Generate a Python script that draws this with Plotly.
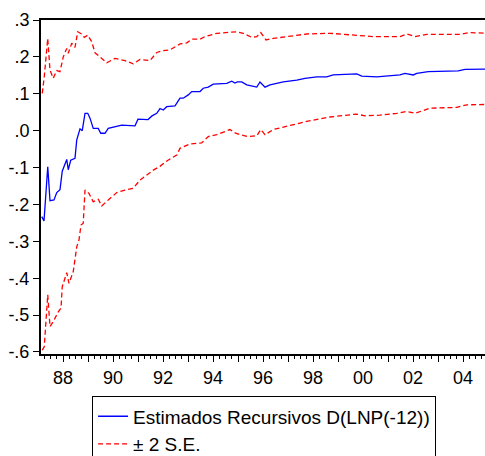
import plotly.graph_objects as go

# Recursive estimate (dates as decimal years)
est_t = [1987.15, 1987.24, 1987.39, 1987.48, 1987.64, 1987.75, 1987.88, 1987.97,
         1988.15, 1988.21, 1988.31, 1988.48, 1988.55, 1988.59, 1988.68, 1988.77,
         1988.88, 1988.99, 1989.08, 1989.21, 1989.41, 1989.51, 1989.68, 1989.81,
         1990.01, 1990.35, 1990.88, 1991.00, 1991.40, 1991.56, 1991.75, 1991.88,
         1992.01, 1992.15, 1992.48, 1992.68, 1992.81, 1993.01, 1993.15, 1993.48,
         1993.61, 1993.81, 1994.01, 1994.55, 1994.75, 1994.88, 1994.97, 1995.15,
         1995.35, 1995.75, 1995.88, 1996.08, 1996.28, 1996.81, 1997.35, 1997.68,
         1998.15, 1998.55, 1998.81, 1999.75, 1999.95, 2000.55, 2001.48, 2001.68,
         2002.01, 2002.15, 2002.61, 2003.81, 2004.08, 2004.88]
est_v = [-0.233, -0.245, -0.098, -0.190, -0.188, -0.168, -0.160, -0.110,
         -0.078, -0.106, -0.080, -0.075, -0.025, -0.015, 0.005, 0.000,
         0.047, 0.047, 0.034, 0.006, 0.006, -0.007, -0.007, 0.006,
         0.010, 0.015, 0.013, 0.031, 0.030, 0.040, 0.047, 0.060,
         0.056, 0.065, 0.067, 0.088, 0.088, 0.097, 0.106, 0.106,
         0.115, 0.118, 0.126, 0.128, 0.134, 0.129, 0.132, 0.132,
         0.124, 0.118, 0.132, 0.118, 0.124, 0.132, 0.137, 0.142,
         0.146, 0.146, 0.151, 0.154, 0.148, 0.146, 0.151, 0.155,
         0.151, 0.155, 0.160, 0.162, 0.166, 0.167]

# Upper band (+2 S.E.)
up_t = [1987.17, 1987.25, 1987.39, 1987.48, 1987.61, 1987.75, 1987.88, 1988.01,
        1988.15, 1988.21, 1988.35, 1988.48, 1988.59, 1988.75, 1988.85, 1988.99,
        1989.15, 1989.28, 1989.48, 1989.75, 1990.08, 1990.48, 1990.81, 1991.08,
        1991.48, 1991.75, 1992.01, 1992.28, 1992.68, 1992.95, 1993.15, 1993.48,
        1993.68, 1994.15, 1994.95, 1995.21, 1995.55, 1995.75, 1995.91, 1996.12,
        1996.41, 1997.08, 1997.75, 1998.68, 1999.75, 2000.41, 2001.48, 2001.75,
        2002.08, 2002.55, 2003.88, 2004.28, 2004.88]
up_v = [0.101, 0.146, 0.250, 0.164, 0.142, 0.163, 0.160, 0.200,
        0.223, 0.210, 0.237, 0.226, 0.268, 0.262, 0.253, 0.259,
        0.241, 0.211, 0.200, 0.184, 0.196, 0.190, 0.181, 0.193,
        0.190, 0.212, 0.217, 0.219, 0.235, 0.238, 0.248, 0.248,
        0.255, 0.264, 0.268, 0.264, 0.253, 0.255, 0.266, 0.246,
        0.250, 0.257, 0.262, 0.264, 0.259, 0.255, 0.255, 0.262,
        0.255, 0.261, 0.261, 0.266, 0.264]

# Lower band (-2 S.E.)
lo_t = [1987.17, 1987.25, 1987.39, 1987.48, 1987.61, 1987.81, 1987.92, 1987.97,
        1988.15, 1988.24, 1988.41, 1988.55, 1988.64, 1988.72, 1988.81, 1988.88,
        1989.04, 1989.21, 1989.41, 1989.55, 1989.81, 1990.15, 1990.48, 1990.81,
        1991.08, 1991.61, 1991.85, 1992.20, 1992.55, 1992.68, 1993.08, 1993.55,
        1993.81, 1994.15, 1994.68, 1994.88, 1995.08, 1995.41, 1995.75, 1995.91,
        1996.08, 1996.41, 1997.08, 1997.75, 1998.68, 1999.75, 2000.08, 2000.68,
        2001.35, 2001.75, 2002.08, 2002.68, 2003.75, 2004.15, 2004.88]
lo_v = [-0.595, -0.586, -0.445, -0.531, -0.518, -0.491, -0.481, -0.423,
        -0.385, -0.414, -0.382, -0.315, -0.296, -0.256, -0.251, -0.161,
        -0.170, -0.193, -0.186, -0.204, -0.188, -0.168, -0.161, -0.156,
        -0.134, -0.107, -0.098, -0.080, -0.066, -0.048, -0.036, -0.033,
        -0.016, -0.011, 0.003, -0.006, -0.011, -0.016, -0.014, 0.003,
        -0.011, 0.003, 0.014, 0.025, 0.037, 0.045, 0.040, 0.042,
        0.047, 0.052, 0.047, 0.061, 0.063, 0.070, 0.071]

x_tickvals = list(range(1988, 2005))
x_ticktext = [("%02d" % (y % 100)) if y % 2 == 0 else "" for y in x_tickvals]
y_tickvals = [0.3, 0.2, 0.1, 0.0, -0.1, -0.2, -0.3, -0.4, -0.5, -0.6]
y_ticktext = [".3", ".2", ".1", ".0", "-.1", "-.2", "-.3", "-.4", "-.5", "-.6"]

FONT = "Liberation Sans, Arial, sans-serif"

fig = go.Figure()
fig.add_trace(go.Scatter(x=est_t, y=est_v, mode="lines",
                         name="Estimados Recursivos D(LNP(-12))",
                         line=dict(color="#0000FF", width=1.3)))
fig.add_trace(go.Scatter(x=up_t, y=up_v, mode="lines", name="± 2 S.E.",
                         line=dict(color="#FF0000", width=1.3, dash="5px,3px")))
fig.add_trace(go.Scatter(x=lo_t, y=lo_v, mode="lines", name="± 2 S.E.",
                         showlegend=False,
                         line=dict(color="#FF0000", width=1.3, dash="5px,3px")))

fig.update_layout(
    width=485, height=456,
    margin=dict(l=41, r=0, t=20, b=102, autoexpand=False),
    paper_bgcolor="white", plot_bgcolor="white",
    font=dict(family=FONT, size=18, color="black"),
    showlegend=True,
    legend=dict(x=0.115, y=-0.127, xanchor="left", yanchor="top",
                bordercolor="black", borderwidth=1, bgcolor="white",
                font=dict(family=FONT, size=19, color="black"),
                tracegroupgap=0, itemwidth=30),
    xaxis=dict(range=[1987.12, 2004.88], tickmode="array",
               tickvals=x_tickvals, ticktext=x_ticktext,
               ticks="outside", ticklen=6, tickwidth=1, tickcolor="black",
               showline=True, linecolor="black", linewidth=2, mirror=True,
               showgrid=False, zeroline=False,
               minor=dict(tick0=1988, dtick=0.25, ticks="outside", ticklen=3,
                          tickwidth=1, tickcolor="black", showgrid=False)),
    yaxis=dict(range=[-0.6055, 0.3], tickmode="array",
               tickvals=y_tickvals, ticktext=y_ticktext,
               ticks="outside", ticklen=6, tickwidth=1, tickcolor="black",
               showline=True, linecolor="black", linewidth=2, mirror=False,
               showgrid=False, zeroline=False),
)

fig.write_html("out.html")
